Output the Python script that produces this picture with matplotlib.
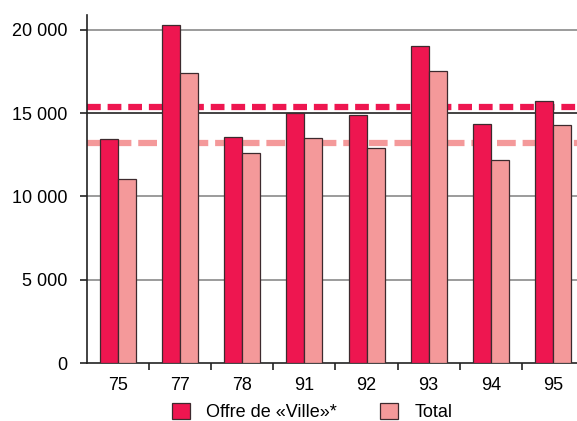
import matplotlib

matplotlib.use("Agg")
import matplotlib.pyplot as plt
import numpy as np
from matplotlib.patches import Patch

DEPTS = ["75", "77", "78", "91", "92", "93", "94", "95"]
VILLE = [13470, 20300, 13590, 15000, 14880, 19020, 14350, 15720]
TOTAL = [11070, 17400, 12630, 13500, 12890, 17520, 12210, 14310]
MEAN_VILLE = 15360
MEAN_TOTAL = 13230
YTICKS = [0, 5000, 10000, 15000, 20000]
YLABELS = ["0", "5 000", "10 000", "15 000", "20 000"]

RED = "#ee1650"
PINK = "#f4999a"
EDGE = "#3d2a2e"

plt.rcParams.update({"font.family": ["Liberation Sans", "DejaVu Sans"], "font.size": 13})

fig = plt.figure(figsize=(5.77, 4.21), dpi=100)
ax = fig.add_axes([87 / 577, 1 - 363 / 421, 497 / 577, 348 / 421])

x = np.arange(len(DEPTS)) + 0.5
w = 0.29

ax.axhline(MEAN_VILLE, color=RED, lw=4.5, dashes=(2.2, 1.1), zorder=1)
ax.axhline(MEAN_TOTAL, color=PINK, lw=4.5, dashes=(3.0, 1.1), zorder=1)

ax.bar(x - w / 2, VILLE, w, color=RED, edgecolor=EDGE, linewidth=0.9, zorder=3)
ax.bar(x + w / 2, TOTAL, w, color=PINK, edgecolor=EDGE, linewidth=0.9, zorder=3)

for v in YTICKS[1:]:
    ax.axhline(v, color="#222222" if v == 15000 else "#8a8a8a", lw=1.2, zorder=0.5)

ax.set_xlim(0, len(DEPTS))
ax.set_ylim(0, 20900)
ax.set_yticks(YTICKS)
ax.set_yticklabels(YLABELS)
ax.set_xticks(x)
ax.set_xticklabels(DEPTS)
ax.set_xticks(np.arange(1, len(DEPTS)), minor=True)
ax.tick_params(axis="x", which="major", length=0, pad=10)
ax.tick_params(axis="x", which="minor", length=5, color="#222222", width=1.2)
ax.tick_params(axis="y", length=5, color="#222222", width=1.2, pad=9)
for s in ["top", "right"]:
    ax.spines[s].set_visible(False)
for s in ["left", "bottom"]:
    ax.spines[s].set_linewidth(1.2)
    ax.spines[s].set_color("#222222")

handles = [
    Patch(facecolor=RED, edgecolor=EDGE, linewidth=0.9, label="Offre de «Ville»*"),
    Patch(facecolor=PINK, edgecolor=EDGE, linewidth=0.9, label="Total"),
]
fig.legend(handles=handles, loc="center", bbox_to_anchor=(312 / 577, 1 - 412 / 421),
           ncol=2, frameon=False, handlelength=1.0, handleheight=1.0,
           handletextpad=0.9, columnspacing=2.4, fontsize=13)

fig.savefig("out.png", dpi=100)
